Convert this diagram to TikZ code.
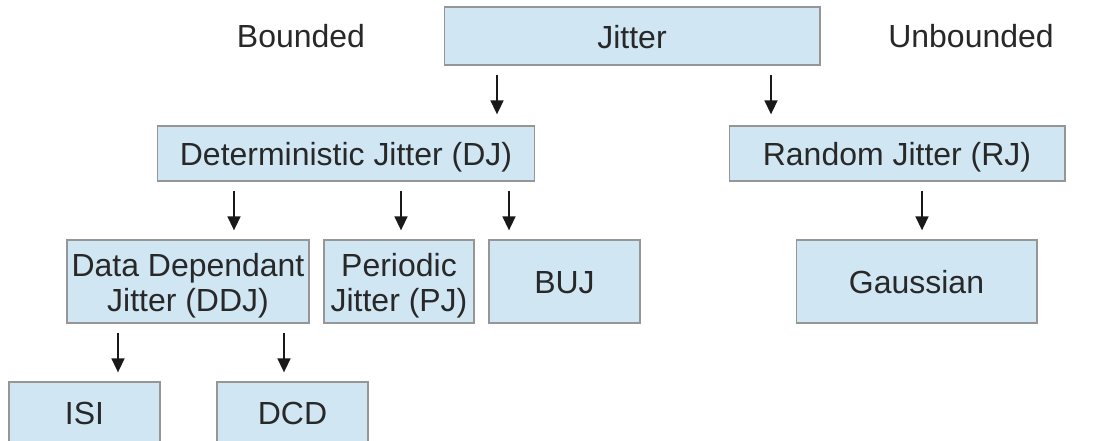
\documentclass[tikz,border=0pt]{standalone}
\usepackage{fontspec}
\setmainfont{Liberation Sans}
\usetikzlibrary{arrows.meta}
\definecolor{boxfill}{RGB}{208,230,243}
\definecolor{boxline}{RGB}{150,150,150}
\definecolor{txt}{RGB}{40,40,40}
\definecolor{arrcol}{RGB}{25,25,25}
\newcommand{\twolines}[2]{\raisebox{-10pt}[0pt][0pt]{\begin{tabular}[b]{@{}c@{}}#1\\#2\end{tabular}}}
\tikzset{
  box/.style={draw=boxline, fill=boxfill, line width=0.6pt, inner sep=0pt, text=txt,
    font=\fontsize{18.2}{20}\selectfont, execute at begin node={\rule[-4pt]{0pt}{22pt}}},
  lbl/.style={text=txt, font=\fontsize{18.2}{20}\selectfont, inner sep=0pt},
  arr/.style={draw=arrcol, line width=1.5pt, -{Triangle[width=0.25cm,length=0.28cm]}, shorten <=0.18cm, shorten >=0.18cm}
}
\begin{document}
\begin{tikzpicture}[x=0.02cm,y=-0.02cm]
\useasboundingbox (0,0) rectangle (1105,440);
\node[box, minimum width=7.52cm, minimum height=1.16cm] (J) at (632,36) {Jitter};
\node[box, minimum width=7.56cm, minimum height=1.10cm] (DJ) at (346,153.5) {Deterministic Jitter (DJ)};
\node[box, minimum width=6.72cm, minimum height=1.10cm] (RJ) at (897,153.5) {Random Jitter (RJ)};
\node[box, minimum width=4.84cm, minimum height=1.66cm] (DDJ) at (188,281.5) {\twolines{Data Dependant}{Jitter (DDJ)}};
\node[box, minimum width=3.00cm, minimum height=1.66cm] (PJ) at (399,281.5) {\twolines{Periodic}{Jitter (PJ)}};
\node[box, minimum width=3.02cm, minimum height=1.66cm] (BUJ) at (564.5,281.5) {BUJ};
\node[box, minimum width=4.82cm, minimum height=1.66cm] (G) at (916.5,281.5) {Gaussian};
\node[box, minimum width=3.02cm, minimum height=1.20cm] (ISI) at (84.5,412) {ISI};
\node[box, minimum width=3.02cm, minimum height=1.20cm] (DCD) at (292.5,412) {DCD};
\node[lbl] (B) at (301,36) {Bounded};
\node[lbl] (U) at (971,36) {Unbounded};
\coordinate (c1) at (497,0);
\coordinate (c2) at (771,0);
\coordinate (c3) at (234,0);
\coordinate (c4) at (401,0);
\coordinate (c5) at (509,0);
\coordinate (c6) at (922,0);
\coordinate (c7) at (118,0);
\coordinate (c8) at (284,0);
\draw[arr, shorten >=0.22cm] (J.south -| c1) -- (DJ.north -| c1);
\draw[arr, shorten >=0.22cm] (J.south -| c2) -- (RJ.north -| c2);
\draw[arr] (DJ.south -| c3) -- (DDJ.north -| c3);
\draw[arr] (DJ.south -| c4) -- (PJ.north -| c4);
\draw[arr] (DJ.south -| c5) -- (BUJ.north -| c5);
\draw[arr] (RJ.south -| c6) -- (G.north -| c6);
\draw[arr] (DDJ.south -| c7) -- (ISI.north -| c7);
\draw[arr] (DDJ.south -| c8) -- (DCD.north -| c8);
\end{tikzpicture}
\end{document}
